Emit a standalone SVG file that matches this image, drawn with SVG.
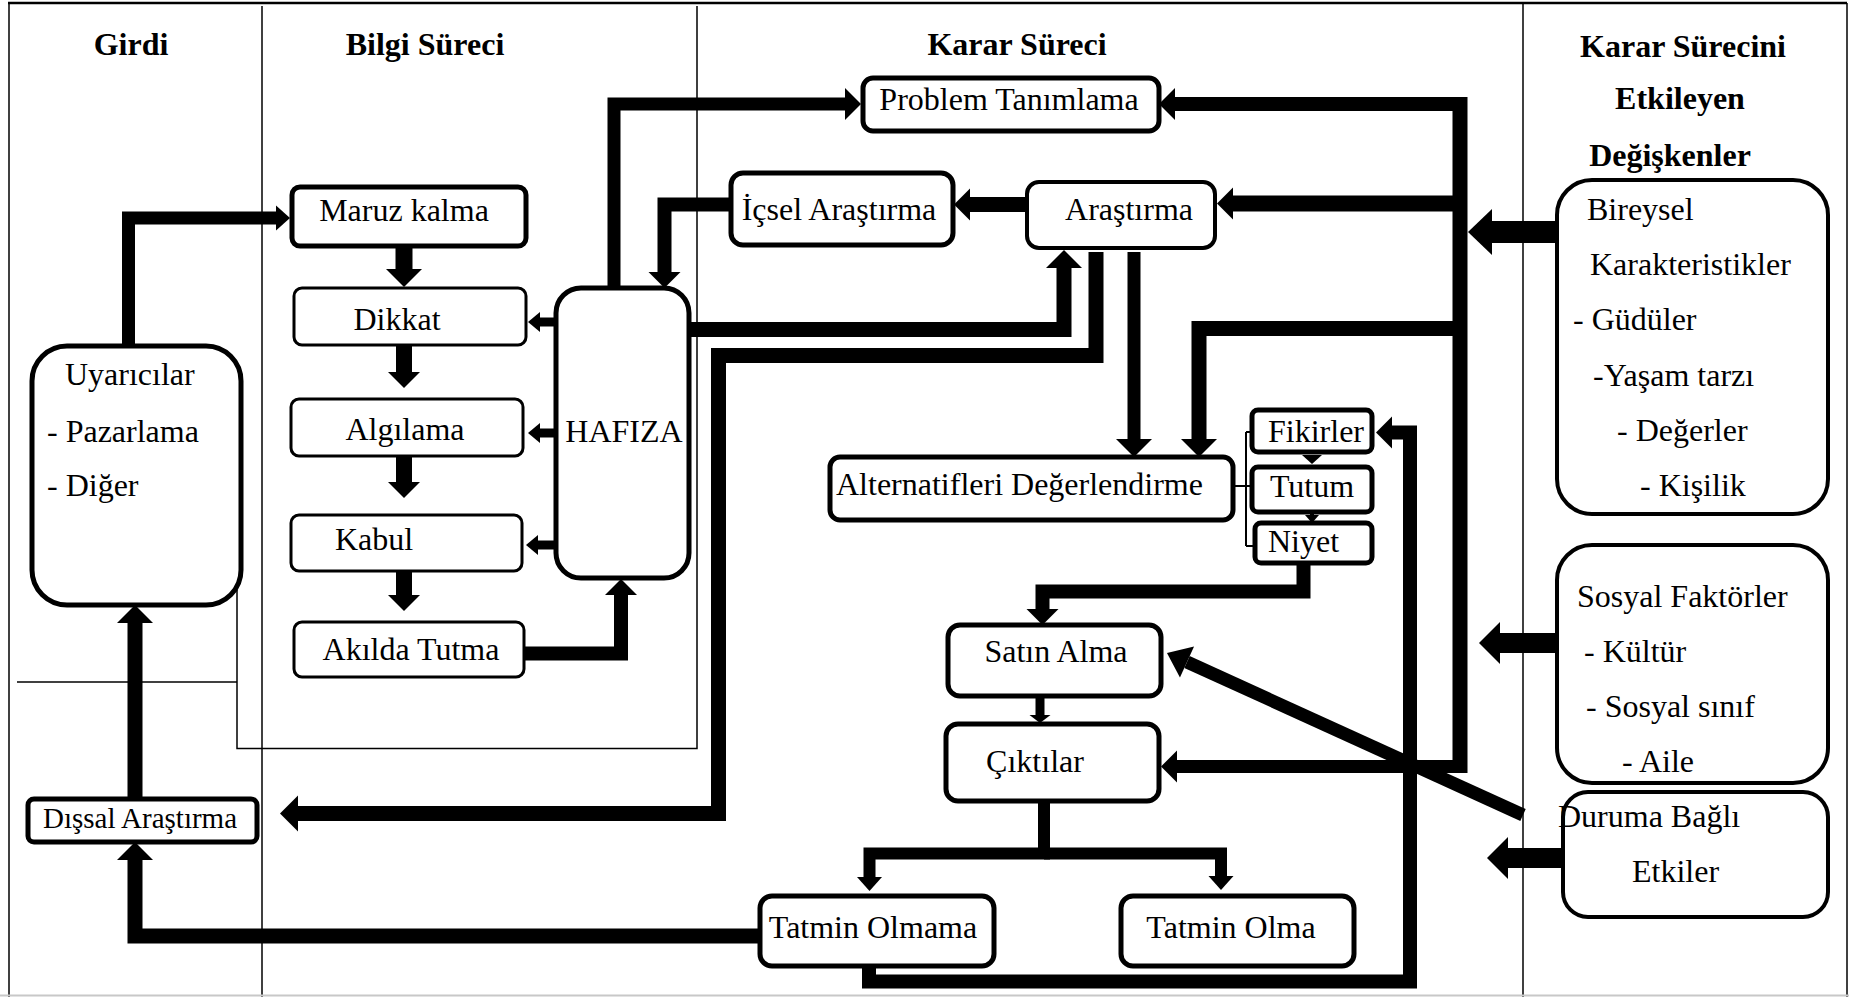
<svg xmlns="http://www.w3.org/2000/svg" width="1849" height="997" viewBox="0 0 1849 997">
<style>
.t{font-family:"Liberation Serif","Times New Roman",serif;font-size:32px;fill:#000}
.b{font-weight:bold}
.c{text-anchor:middle}
.box{fill:#fff;stroke:#000;stroke-width:5}
.thin{fill:#fff;stroke:#000;stroke-width:3}
.frame{fill:none;stroke:#000;stroke-width:1.5}
.cn{fill:none;stroke:#000;stroke-linejoin:miter;stroke-linecap:butt}
.hd{fill:#000;stroke:none}
</style>
<defs>
<marker id="A" markerUnits="userSpaceOnUse" orient="auto" refX="0" refY="0" markerWidth="40" markerHeight="40" style="overflow:visible"><path class="hd" d="M0,-18 L18,0 L0,18 Z"/></marker>
<marker id="B" markerUnits="userSpaceOnUse" orient="auto" refX="0" refY="0" markerWidth="40" markerHeight="40" style="overflow:visible"><path class="hd" d="M0,-16 L16,0 L0,16 Z"/></marker>
<marker id="C" markerUnits="userSpaceOnUse" orient="auto" refX="0" refY="0" markerWidth="40" markerHeight="40" style="overflow:visible"><path class="hd" d="M0,-12.5 L14,0 L0,12.5 Z"/></marker>
<marker id="D" markerUnits="userSpaceOnUse" orient="auto" refX="0" refY="0" markerWidth="40" markerHeight="40" style="overflow:visible"><path class="hd" d="M0,-10 L12,0 L0,10 Z"/></marker>
<marker id="E" markerUnits="userSpaceOnUse" orient="auto" refX="0" refY="0" markerWidth="40" markerHeight="40" style="overflow:visible"><path class="hd" d="M0,-10.5 L8,0 L0,10.5 Z"/></marker>
<marker id="F" markerUnits="userSpaceOnUse" orient="auto" refX="0" refY="0" markerWidth="60" markerHeight="60" style="overflow:visible"><path class="hd" d="M0,-23 L24,0 L0,23 Z"/></marker>
<marker id="G" markerUnits="userSpaceOnUse" orient="auto" refX="0" refY="0" markerWidth="60" markerHeight="60" style="overflow:visible"><path class="hd" d="M0,-21 L21,0 L0,21 Z"/></marker>
<marker id="H" markerUnits="userSpaceOnUse" orient="auto" refX="0" refY="0" markerWidth="60" markerHeight="60" style="overflow:visible"><path class="hd" d="M0,-17 L22,0 L0,17 Z"/></marker>
</defs>
<rect x="0" y="0" width="1849" height="997" fill="#fff"/>

<g id="frame">
<path class="frame" d="M8,3 H1847" style="stroke-width:2.5"/>
<path class="frame" d="M9,3 V997"/>
<path class="frame" d="M262,6 V997"/>
<path class="frame" d="M697,6 V748.5 H237 V590"/>
<path class="frame" d="M17,682 H237"/>
<path class="frame" d="M1523,3 V997"/>
<path class="frame" d="M1847,3 V997"/>
<path d="M0,995.5 H1849" stroke="#c8c8c8" stroke-width="2" fill="none"/>
</g>

<g id="headers">
<text class="t b c" x="131" y="55">Girdi</text>
<text class="t b c" x="425" y="55">Bilgi Süreci</text>
<text class="t b c" x="1017" y="55">Karar Süreci</text>
<text class="t b c" x="1683" y="57">Karar Sürecini</text>
<text class="t b c" x="1680" y="109">Etkileyen</text>
<text class="t b c" x="1670" y="166">Değişkenler</text>
</g>

<g id="connectors">
<path class="cn" stroke-width="13" d="M128.5,346 V218 H276" marker-end="url(#C)"/>
<path class="cn" stroke-width="17" d="M404,246 V269" marker-end="url(#A)"/>
<path class="cn" stroke-width="16" d="M404,345 V372" marker-end="url(#B)"/>
<path class="cn" stroke-width="16" d="M404,456 V482" marker-end="url(#B)"/>
<path class="cn" stroke-width="16" d="M404,571 V595" marker-end="url(#B)"/>
<path class="cn" stroke-width="14" d="M524,653.5 H621 V595" marker-end="url(#B)"/>
<path class="cn" stroke-width="9" d="M556,322 H540" marker-end="url(#D)"/>
<path class="cn" stroke-width="9" d="M556,433 H540" marker-end="url(#D)"/>
<path class="cn" stroke-width="9" d="M556,545 H538" marker-end="url(#D)"/>
<path class="cn" stroke-width="13" d="M614,288 V104 H845" marker-end="url(#B)"/>
<path class="cn" stroke-width="14" d="M731,204.5 H664.5 V272" marker-end="url(#B)"/>
<path class="cn" stroke-width="15" d="M689,329.5 H1064 V268" marker-end="url(#A)"/>
<path class="cn" stroke-width="15" d="M1096,252 V355.5 H718.5 V813.5 H298" marker-end="url(#A)"/>
<path class="cn" stroke-width="13" d="M1134,252 V439" marker-end="url(#A)"/>
<path class="cn" stroke-width="15" d="M1027,204.5 H970" marker-end="url(#B)"/>
<path class="cn" stroke-width="15" d="M1460,97 V773"/>
<path class="cn" stroke-width="14" d="M1460,104 H1175" marker-end="url(#B)"/>
<path class="cn" stroke-width="16" d="M1460,203.5 H1233" marker-end="url(#B)"/>
<path class="cn" stroke-width="15" d="M1460,328.5 H1199 V439" marker-end="url(#A)"/>
<path class="cn" stroke-width="13" d="M1460,766.5 H1177" marker-end="url(#B)"/>
<path class="cn" stroke-width="22" d="M1557,232 H1492" marker-end="url(#F)"/>
<path class="cn" stroke-width="20" d="M1557,643 H1500" marker-end="url(#G)"/>
<path class="cn" stroke-width="20" d="M1563,858 H1508" marker-end="url(#G)"/>
<path class="cn" stroke-width="13" d="M1523,815 L1187,662" marker-end="url(#H)"/>
<path class="cn" stroke-width="14" d="M1303.5,563 V591.5 H1042.5 V609" marker-end="url(#B)"/>
<path class="cn" stroke-width="9" d="M1040,697 V715" marker-end="url(#E)"/>
<path class="cn" stroke-width="12" d="M1044,802 V853.5 H869.5 V877" marker-end="url(#C)"/>
<path class="cn" stroke-width="12" d="M1044,853.5 H1221 V876" marker-end="url(#C)"/>
<path class="cn" stroke-width="15" d="M760,936 H135 V860" marker-end="url(#A)"/>
<path class="cn" stroke-width="15" d="M135,799 V623" marker-end="url(#A)"/>
<path class="cn" stroke-width="14" d="M869,966 V981.5 H1410 V432.5 H1392" marker-end="url(#B)"/>
<polygon class="hd" points="1302,455 1322,455 1312,464"/>
<path class="cn" stroke-width="4" d="M1312,512 V516"/>
<polygon class="hd" points="1305,515 1319,515 1312,523"/>
<path class="cn" stroke-width="2" d="M1233,486 H1252 M1246,432 V546 M1246,432 H1252 M1246,546 H1255"/>
</g>

<g id="uyaricilar">
<rect class="box" x="32" y="346" width="209" height="259" rx="35"/>
<text class="t" x="65" y="385">Uyarıcılar</text>
<text class="t" x="47" y="442">- Pazarlama</text>
<text class="t" x="47" y="496">- Diğer</text>
</g>
<g id="dissal">
<rect class="box" x="28" y="799" width="229" height="43" rx="6"/>
<text class="t c" x="140" y="828" style="font-size:29px">Dışsal Araştırma</text>
</g>
<g id="maruz">
<rect class="box" x="292" y="187" width="234" height="59" rx="8"/>
<text class="t c" x="404" y="221">Maruz kalma</text>
</g>
<g id="dikkat">
<rect class="thin" x="294" y="288" width="232" height="57" rx="8"/>
<text class="t c" x="397" y="330">Dikkat</text>
</g>
<g id="algilama">
<rect class="thin" x="291" y="399" width="232" height="57" rx="8"/>
<text class="t c" x="405" y="440">Algılama</text>
</g>
<g id="kabul">
<rect class="thin" x="291" y="515" width="231" height="56" rx="8"/>
<text class="t c" x="374" y="550">Kabul</text>
</g>
<g id="akilda">
<rect class="thin" x="294" y="622" width="230" height="55" rx="8"/>
<text class="t c" x="411" y="660">Akılda Tutma</text>
</g>
<g id="hafiza">
<rect class="box" x="556" y="288" width="133" height="290" rx="25"/>
<text class="t c" x="624" y="442">HAFIZA</text>
</g>
<g id="problem">
<rect class="box" x="863" y="78" width="296" height="53" rx="10"/>
<text class="t c" x="1009" y="110">Problem Tanımlama</text>
</g>
<g id="icsel">
<rect class="box" x="731" y="173" width="222" height="72" rx="12"/>
<text class="t c" x="839" y="220">İçsel Araştırma</text>
</g>
<g id="arastirma">
<rect class="box" x="1027" y="182" width="188" height="66" rx="12" style="stroke-width:4"/>
<text class="t c" x="1129" y="220">Araştırma</text>
</g>
<g id="alternatifler">
<rect class="box" x="830" y="457" width="403" height="63" rx="10"/>
<text class="t" x="836" y="495">Alternatifleri Değerlendirme</text>
</g>
<g id="fikirler">
<rect class="box" x="1252" y="410" width="120" height="42" rx="6"/>
<text class="t c" x="1316" y="442">Fikirler</text>
</g>
<g id="tutum">
<rect class="box" x="1252" y="467" width="120" height="45" rx="6"/>
<text class="t c" x="1312" y="497">Tutum</text>
</g>
<g id="niyet">
<rect class="box" x="1255" y="523" width="117" height="40" rx="6"/>
<text class="t" x="1268" y="552">Niyet</text>
</g>
<g id="satin">
<rect class="box" x="948" y="625" width="213" height="71" rx="12"/>
<text class="t c" x="1056" y="662">Satın Alma</text>
</g>
<g id="ciktilar">
<rect class="box" x="946" y="724" width="213" height="77" rx="12"/>
<text class="t c" x="1035" y="772">Çıktılar</text>
</g>
<g id="tatmin-olmama">
<rect class="box" x="760" y="896" width="234" height="70" rx="12"/>
<text class="t c" x="873" y="938">Tatmin Olmama</text>
</g>
<g id="tatmin-olma">
<rect class="box" x="1121" y="896" width="233" height="70" rx="12"/>
<text class="t c" x="1231" y="938">Tatmin Olma</text>
</g>
<g id="bireysel">
<rect class="box" x="1557" y="180" width="271" height="334" rx="35" style="stroke-width:4"/>
<text class="t" x="1587" y="220">Bireysel</text>
<text class="t" x="1590" y="275">Karakteristikler</text>
<text class="t" x="1573" y="330">- Güdüler</text>
<text class="t" x="1593" y="386">-Yaşam tarzı</text>
<text class="t" x="1617" y="441">- Değerler</text>
<text class="t" x="1640" y="496">- Kişilik</text>
</g>
<g id="sosyal">
<rect class="box" x="1557" y="545" width="271" height="238" rx="35" style="stroke-width:4"/>
<text class="t" x="1577" y="607">Sosyal Faktörler</text>
<text class="t" x="1584" y="662">- Kültür</text>
<text class="t" x="1586" y="717">- Sosyal sınıf</text>
<text class="t" x="1622" y="772">- Aile</text>
</g>
<g id="duruma">
<rect class="box" x="1563" y="792" width="265" height="125" rx="25" style="stroke-width:4"/>
<text class="t" x="1558" y="827">Duruma Bağlı</text>
<text class="t" x="1632" y="882">Etkiler</text>
</g>
</svg>
